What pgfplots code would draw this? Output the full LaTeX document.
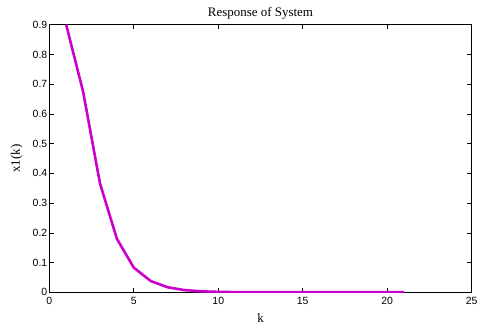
\documentclass[border=0pt]{standalone}
\usepackage{fontspec}
\setmainfont{Liberation Serif}
\newfontfamily\ticksans{Liberation Sans}
\usepackage{pgfplots}
\pgfplotsset{compat=1.18}
\definecolor{magline}{RGB}{204,0,204}
\begin{document}
\begin{tikzpicture}
\useasboundingbox (0,0) rectangle (478bp,324bp);
\begin{axis}[
  at={(49.3bp,31.7bp)}, anchor=south west,
  scale only axis, width=422.4bp, height=267.6bp,
  xmin=0, xmax=25, ymin=0, ymax=0.9,
  xtick={0,5,...,25},
  ytick={0,0.1,0.2,0.3,0.4,0.5,0.6,0.7,0.8,0.9},
  tick align=inside,
  major tick length=4.5bp,
  tick style={black, line width=0.6bp},
  axis line style={black, line width=1bp},
  /pgf/number format/assume math mode=true,
  yticklabel style={/pgf/number format/fixed, /pgf/number format/precision=1, font=\fontsize{10.5}{12}\selectfont\ticksans, xshift=1.5bp},
  xticklabel style={font=\fontsize{10.5}{12}\selectfont\ticksans, yshift=-1bp},
  title={Response of System},
  xlabel={k}, ylabel={x1(k)},
  every axis title/.style={at={(axis description cs:0.5,1.030)}, anchor=base, font=\fontsize{13}{15}\selectfont},
  every axis x label/.style={at={(axis description cs:0.5,-0.111)}, anchor=base, font=\fontsize{13}{15}\selectfont},
  every axis y label/.style={at={(axis description cs:-0.0694,0.5)}, anchor=base, rotate=90, font=\fontsize{13}{15}\selectfont},
  clip=true,
]
\addplot[magline, line width=2.6bp, line join=round] coordinates {
(1,0.9) (2,0.675) (3,0.366) (4,0.18) (5,0.083) (6,0.038) (7,0.017) (8,0.0075)
(9,0.0033) (10,0.0014) (11,0.0006) (12,0.00026) (13,0.0001) (14,0.00005)
(15,0.00002) (16,0.00001) (17,0) (18,0) (19,0) (20,0) (21,0)
};
\end{axis}
\end{tikzpicture}
\end{document}
